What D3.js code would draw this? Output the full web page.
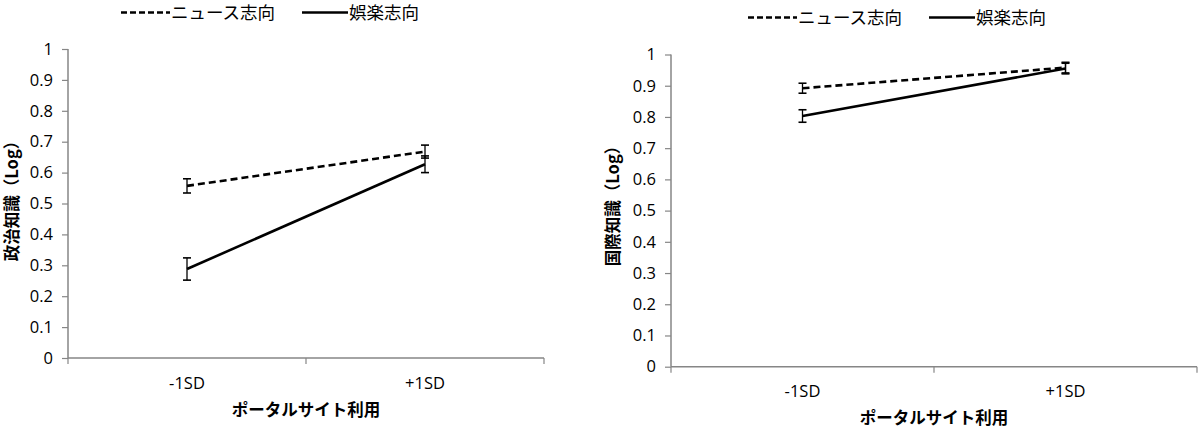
<!DOCTYPE html>
<html><head><meta charset="utf-8">
<script src="https://cdn.jsdelivr.net/npm/d3@7"></script>
<style>body{margin:0;background:#fff}svg{display:block}text{font-family:"Noto Sans CJK JP","Noto Sans",sans-serif}</style>
</head><body>
<script>
const categories = ["-1SD", "+1SD"];
const seriesNames = ["ニュース志向", "娯楽志向"];
const yTicks = [0, 0.1, 0.2, 0.3, 0.4, 0.5, 0.6, 0.7, 0.8, 0.9, 1];
const yTickLabels = ["0", "0.1", "0.2", "0.3", "0.4", "0.5", "0.6", "0.7", "0.8", "0.9", "1"];
// Left: 政治知識
const politicsNews = [0.557, 0.668];
const politicsNewsErr = [0.023, 0.021];
const politicsEnt = [0.288, 0.627];
const politicsEntErr = [0.036, 0.027];
// Right: 国際知識
const intlNews = [0.892, 0.958];
const intlNewsErr = [0.016, 0.017];
const intlEnt = [0.803, 0.955];
const intlEntErr = [0.020, 0.017];
const xTitle = "ポータルサイト利用";
const yTitles = ["政治知識（Log）", "国際知識（Log）"];

const W = 1200, H = 429;
const svg = d3.select("body").append("svg").attr("width", W).attr("height", H);

const panels = [
  {x0: 68, x1: 544, y0: 358, y1: 49, news: politicsNews, newsErr: politicsNewsErr, ent: politicsEnt, entErr: politicsEntErr,
   yTitle: yTitles[0], yTitleX: 12, yTitleY: 197, tickLabelY: 389, xTitleY: 416, legendY: 12.5, legendX: 121},
  {x0: 671, x1: 1197, y0: 366.7, y1: 54.5, news: intlNews, newsErr: intlNewsErr, ent: intlEnt, entErr: intlEntErr,
   yTitle: yTitles[1], yTitleX: 613, yTitleY: 202, tickLabelY: 397, xTitleY: 424, legendY: 17.5, legendX: 748}
];

const axisColor = "#868686";
const numFont = '"Open Sans","Noto Sans",sans-serif';

panels.forEach(p => {
  const x = d3.scaleBand().domain(categories).range([p.x0, p.x1]).padding(0);
  const y = d3.scaleLinear().domain([0, 1]).range([p.y0, p.y1]);
  const cx = c => x(c) + x.bandwidth() / 2;
  const g = svg.append("g");

  // y axis
  const yAxis = d3.axisLeft(y).tickValues(yTicks).tickFormat((d, i) => yTickLabels[i]).tickSize(6).tickPadding(9);
  const ya = g.append("g").attr("transform", `translate(${p.x0},0)`).call(yAxis);
  ya.select(".domain").attr("stroke", axisColor).attr("stroke-width", 1.5).attr("d", `M0,${p.y1}V${p.y0}`);
  ya.selectAll(".tick line").attr("stroke", axisColor).attr("stroke-width", 1.2);
  ya.selectAll(".tick text").attr("font-size", 16.5).attr("fill", "#000").style("font-family", numFont);

  // x axis
  const xa = g.append("g").attr("transform", `translate(0,${p.y0})`);
  xa.append("line").attr("x1", p.x0).attr("x2", p.x1).attr("stroke", axisColor).attr("stroke-width", 1.5);
  const bounds = categories.map(c => x(c)).concat([x(categories[categories.length - 1]) + x.bandwidth()]);
  xa.selectAll("line.tk").data(bounds).join("line").attr("class", "tk")
    .attr("x1", d => d).attr("x2", d => d).attr("y1", 0).attr("y2", 6)
    .attr("stroke", axisColor).attr("stroke-width", 1.2);
  g.selectAll("text.xl").data(categories).join("text").attr("class", "xl")
    .attr("x", d => cx(d)).attr("y", p.tickLabelY).attr("text-anchor", "middle")
    .attr("font-size", 16.5).style("font-family", numFont).text(d => d);

  // titles
  g.append("text").attr("x", (p.x0 + p.x1) / 2).attr("y", p.xTitleY).attr("text-anchor", "middle")
    .attr("font-size", 16.5).attr("font-weight", "bold").text(xTitle);
  g.append("text").attr("transform", `translate(${p.yTitleX + 6},${p.yTitleY}) rotate(-90)`)
    .attr("text-anchor", "middle").attr("font-size", 16.5).attr("font-weight", "bold").text(p.yTitle);

  // series
  const series = [
    {vals: p.news, errs: p.newsErr, dash: "7,4"},
    {vals: p.ent, errs: p.entErr, dash: null}
  ];
  const line = d3.line().x((d, i) => cx(categories[i])).y(d => y(d));
  series.forEach(s => {
    g.append("path").datum(s.vals).attr("d", line).attr("fill", "none")
      .attr("stroke", "#000").attr("stroke-width", 2.6).attr("stroke-dasharray", s.dash);
    categories.forEach((c, i) => {
      const xx = cx(c), top = y(s.vals[i] + s.errs[i]), bot = y(s.vals[i] - s.errs[i]);
      g.append("line").attr("x1", xx).attr("x2", xx).attr("y1", top).attr("y2", bot).attr("stroke", "#000").attr("stroke-width", 1.3);
      [top, bot].forEach(yy => g.append("line").attr("x1", xx - 4).attr("x2", xx + 4).attr("y1", yy).attr("y2", yy)
        .attr("stroke", "#000").attr("stroke-width", 1.6));
    });
  });

  // legend
  const lg = g.append("g").attr("transform", `translate(${p.legendX},${p.legendY})`);
  lg.append("line").attr("x1", 0).attr("x2", 49).attr("stroke", "#000").attr("stroke-width", 2.6).attr("stroke-dasharray", "6,3");
  lg.append("text").attr("x", 50).attr("y", 6).attr("font-size", 17.5).text(seriesNames[0]);
  lg.append("line").attr("x1", 181).attr("x2", 227).attr("stroke", "#000").attr("stroke-width", 2.6);
  lg.append("text").attr("x", 228).attr("y", 6).attr("font-size", 17.5).text(seriesNames[1]);
});
</script>
</body></html>
